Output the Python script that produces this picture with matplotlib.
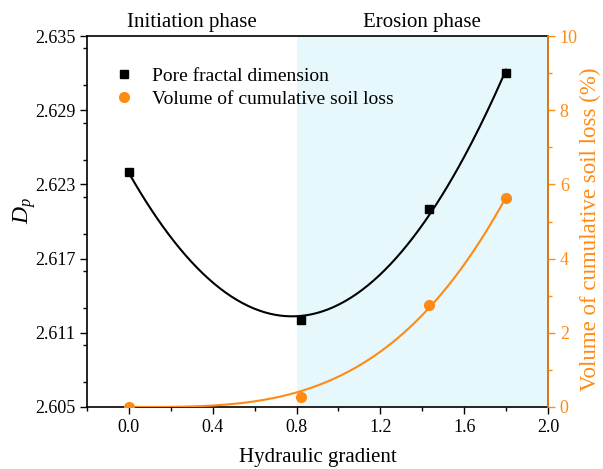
import matplotlib
matplotlib.use("Agg")
import matplotlib.pyplot as plt
import numpy as np
from matplotlib.ticker import MultipleLocator

plt.rcParams["font.family"] = ["Liberation Serif", "DejaVu Serif"]
plt.rcParams["mathtext.fontset"] = "custom"
plt.rcParams["mathtext.it"] = "Liberation Serif:italic"
plt.rcParams["mathtext.rm"] = "Liberation Serif"

# data
gradient = [0.0, 0.82, 1.43, 1.80]
fractal_dim = [2.624, 2.612, 2.621, 2.632]
soil_loss = [0.0, 0.27, 2.74, 5.63]

ORANGE = "#FF8A14"
SHADE = "#E6F8FC"

# fitted curves: quadratic for Dp, power law for soil loss
xs = np.linspace(0.0, 1.8, 200)
fd_fit = np.polyval(np.polyfit(gradient, fractal_dim, 2), xs)

gx = np.array(gradient)
gy = np.array(soil_loss)
best = None
for n in np.linspace(1.5, 6, 1000):
    basis = gx ** n
    a = (basis @ gy) / (basis @ basis)
    err = np.sum((a * basis - gy) ** 2)
    if best is None or err < best[0]:
        best = (err, a, n)
_, a_fit, n_fit = best
sl_fit = a_fit * xs ** n_fit

fig = plt.figure(figsize=(6.03, 4.69), dpi=100)
ax = fig.add_axes([0.1443, 0.1322, 0.7645, 0.791])
ax2 = ax.twinx()

ax.axvspan(0.8, 2.0, color=SHADE, lw=0, zorder=0)
ax.plot(xs, fd_fit, color="black", lw=1.5, zorder=3)
ax.plot(gradient, fractal_dim, "s", color="black", ms=6, zorder=4,
        label="Pore fractal dimension")

ax2.plot(xs, sl_fit, color=ORANGE, lw=1.5, zorder=3)
ax2.plot(gradient, soil_loss, "o", color=ORANGE, ms=7, zorder=4,
         label="Volume of cumulative soil loss")

ax.set_xlim(-0.2, 2.0)
ax.set_ylim(2.605, 2.635)
ax2.set_ylim(0, 10)

ax.set_xticks([0.0, 0.4, 0.8, 1.2, 1.6, 2.0])
ax.set_xticklabels(["0.0", "0.4", "0.8", "1.2", "1.6", "2.0"])
ax.xaxis.set_minor_locator(MultipleLocator(0.2))
ax.set_yticks([2.605, 2.611, 2.617, 2.623, 2.629, 2.635])
ax.set_yticklabels(["2.605", "2.611", "2.617", "2.623", "2.629", "2.635"])
ax.yaxis.set_minor_locator(MultipleLocator(0.003))
ax2.yaxis.set_major_locator(MultipleLocator(2))
ax2.yaxis.set_minor_locator(MultipleLocator(1))

ax.tick_params(axis="both", which="major", direction="out", length=5, width=1,
               labelsize=13)
ax.tick_params(axis="both", which="minor", direction="out", length=3, width=1)
ax2.tick_params(axis="y", which="major", direction="out", length=5, width=1,
                labelsize=13, colors=ORANGE)
ax2.tick_params(axis="y", which="minor", direction="out", length=3, width=1,
                colors=ORANGE)

for sp in ax.spines.values():
    sp.set_linewidth(1.2)
ax2.spines["right"].set_color(ORANGE)
ax2.spines["right"].set_linewidth(1.2)
ax2.spines["left"].set_visible(False)
ax2.spines["top"].set_visible(False)
ax2.spines["bottom"].set_visible(False)

ax.set_xlabel("Hydraulic gradient", fontsize=15)
ax.xaxis.label.set_va("center")
ax.xaxis.set_label_coords(0.5, -0.137)

ax.set_ylabel(r"$D_p$", fontsize=17)
ax.yaxis.label.set_va("center")
ax.yaxis.set_label_coords(-0.136, 0.53)

ax2.set_ylabel("Volume of cumulative soil loss (%)", fontsize=16.5,
               color=ORANGE)
ax2.yaxis.label.set_va("center")
ax2.yaxis.set_label_coords(1.091, 0.478)

ax.text(0.3, 2.6353, "Initiation phase", ha="center", va="bottom", fontsize=15)
ax.text(1.4, 2.6353, "Erosion phase", ha="center", va="bottom", fontsize=15)

h1, l1 = ax.get_legend_handles_labels()
h2, l2 = ax2.get_legend_handles_labels()
ax2.legend(h1 + h2, l1 + l2, loc="upper left", bbox_to_anchor=(0.018, 0.962),
           frameon=False, fontsize=14, handletextpad=0.8, labelspacing=0.25,
           handlelength=1.2)

fig.savefig("out.png", dpi=100)
